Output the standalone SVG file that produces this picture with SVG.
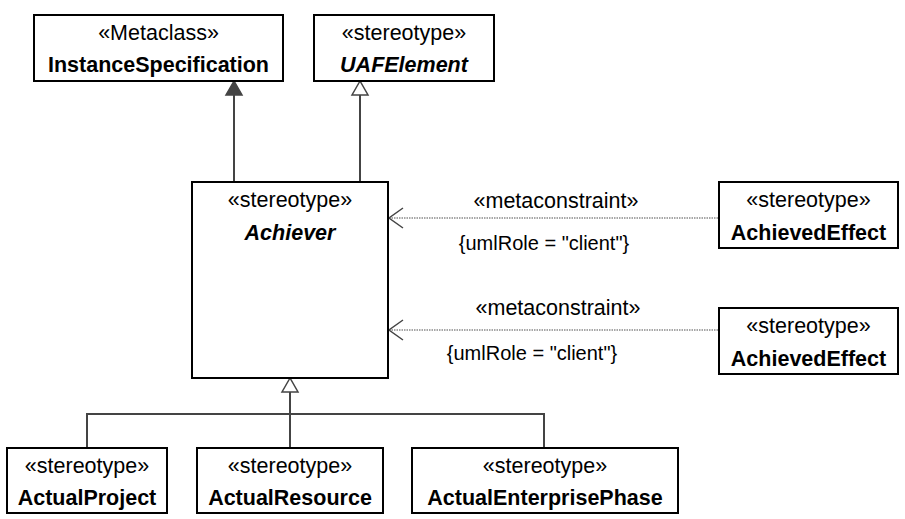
<svg xmlns="http://www.w3.org/2000/svg" width="905" height="519" viewBox="0 0 905 519">
  <style>
    .box { fill: #ffffff; stroke: #000000; stroke-width: 2; }
    .t { font-family: "Liberation Sans", Arial, sans-serif; font-size: 21.5px; fill: #000000; text-anchor: middle; }
    .b { font-weight: bold; }
    .i { font-style: italic; }
    .c { font-family: "Liberation Sans", Arial, sans-serif; font-size: 20px; fill: #000000; text-anchor: middle; }
    .gen { fill: none; stroke: #444444; stroke-width: 2; }
    .dep { fill: none; stroke: #8a8a8a; stroke-width: 1.5; stroke-dasharray: 1.5 1; }
    .open { fill: none; stroke: #444444; stroke-width: 1.5; }
  </style>

  <g id="connectors">
    <!-- Achiever -> InstanceSpecification (extension, filled head) -->
    <line class="gen" x1="234" y1="95" x2="234" y2="182"/>
    <polygon points="234,81 226,95 242,95" fill="#444444" stroke="#444444" stroke-width="1.5"/>
    <!-- Achiever -> UAFElement (generalization) -->
    <line class="gen" x1="360" y1="95" x2="360" y2="182"/>
    <polygon points="360,81 352,95 368,95" fill="#ffffff" stroke="#444444" stroke-width="1.5"/>

    <!-- metaconstraints -->
    <line class="dep" x1="389" y1="218" x2="719" y2="218"/>
    <polyline class="open" points="403,208 389,218 403,228"/>
    <line class="dep" x1="389" y1="330" x2="719" y2="330"/>
    <polyline class="open" points="403,320 389,330 403,340"/>

    <!-- specializations of Achiever -->
    <polygon points="290,378 282,392 298,392" fill="#ffffff" stroke="#444444" stroke-width="1.5"/>
    <polyline class="gen" points="290,392 290,448"/>
    <polyline class="gen" points="87,448 87,414 544,414 544,448"/>
  </g>

  <g id="InstanceSpecification">
    <rect class="box" x="34" y="15" width="249" height="66"/>
    <text class="t" x="158.5" y="40">«Metaclass»</text>
    <text class="t b" x="158.5" y="72">InstanceSpecification</text>
  </g>

  <g id="UAFElement">
    <rect class="box" x="314" y="15" width="180" height="66"/>
    <text class="t" x="404" y="40">«stereotype»</text>
    <text class="t b i" x="404" y="72">UAFElement</text>
  </g>

  <g id="Achiever">
    <rect class="box" x="192" y="182" width="196" height="196"/>
    <text class="t" x="290" y="207">«stereotype»</text>
    <text class="t b i" x="290" y="240">Achiever</text>
  </g>

  <g id="AchievedEffect1">
    <rect class="box" x="719" y="182" width="179" height="66"/>
    <text class="t" x="808.5" y="207">«stereotype»</text>
    <text class="t b" x="808.5" y="240">AchievedEffect</text>
  </g>

  <g id="AchievedEffect2">
    <rect class="box" x="719" y="308" width="179" height="66"/>
    <text class="t" x="808.5" y="333">«stereotype»</text>
    <text class="t b" x="808.5" y="366">AchievedEffect</text>
  </g>

  <g id="labels">
    <text class="t" x="556" y="208">«metaconstraint»</text>
    <text class="c" x="544" y="250">{umlRole = "client"}</text>
    <text class="t" x="558" y="315">«metaconstraint»</text>
    <text class="c" x="532" y="360">{umlRole = "client"}</text>
  </g>

  <g id="ActualProject">
    <rect class="box" x="7" y="448" width="160" height="65"/>
    <text class="t" x="87" y="473">«stereotype»</text>
    <text class="t b" x="87" y="505">ActualProject</text>
  </g>

  <g id="ActualResource">
    <rect class="box" x="197" y="448" width="186" height="65"/>
    <text class="t" x="290" y="473">«stereotype»</text>
    <text class="t b" x="290" y="505">ActualResource</text>
  </g>

  <g id="ActualEnterprisePhase">
    <rect class="box" x="412" y="448" width="266" height="65"/>
    <text class="t" x="545" y="473">«stereotype»</text>
    <text class="t b" x="545" y="505">ActualEnterprisePhase</text>
  </g>
</svg>
